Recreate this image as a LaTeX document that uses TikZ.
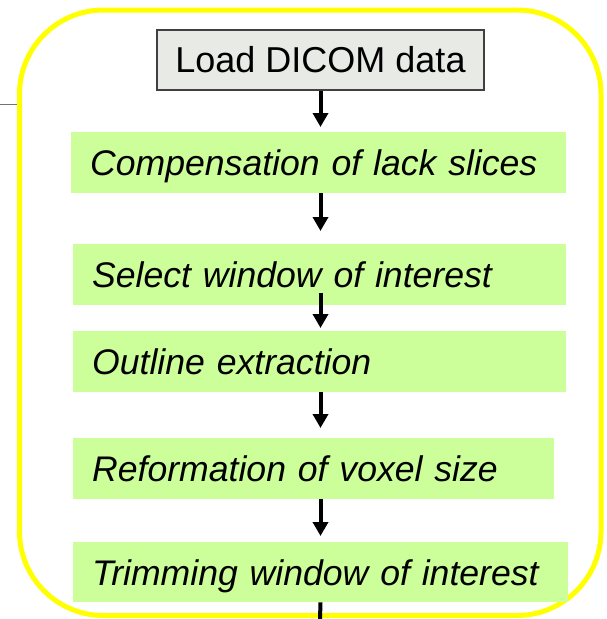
\documentclass[tikz,border=0pt]{standalone}
\usepackage{fontspec}
\setmainfont{Liberation Sans}
\usetikzlibrary{arrows.meta,calc}

\definecolor{stepgreen}{RGB}{204,255,153}
\definecolor{loadgrey}{RGB}{232,234,229}
\definecolor{framegold}{RGB}{255,255,0}

\begin{document}
\begin{tikzpicture}[x=1pt,y=-1pt,
		loadbox/.style={draw=black!75, line width=1.2pt, fill=loadgrey, minimum width=327pt, minimum height=60pt, inner sep=0pt, font=\fontsize{36}{40}\selectfont},
		stepbox/.style={fill=stepgreen, anchor=north west, minimum height=61pt, inner xsep=19pt, inner ysep=0pt, text height=26pt, text depth=0pt, align=left, font=\fontsize{35.6}{40}\selectfont\itshape},
		flow/.style={line width=4pt, -{Triangle[width=15pt,length=14pt]}}]
		%%%%% START %%%%%
		
		\useasboundingbox (0,0) rectangle (607,619);
		
		% outer frame
		\draw[line width=5pt, color=framegold, rounded corners=84pt] (19.5,10) rectangle (601,615.5);
		\draw[line width=0.6pt, color=black!55] (0,104) -- (17,104);
		
		% steps
		\node[loadbox] (load) at (320.5,60) {Load DICOM data};
		
		\node[stepbox, text width=457pt] (comp) at (71,132) {Compensation of lack slices};
		\node[stepbox, text width=455pt] (sel) at (73,244) {Select window of interest};
		\node[stepbox, text width=455pt] (outl) at (73,331) {Outline extraction};
		\node[stepbox, text width=443pt] (refo) at (73,438) {Reformation of voxel size};
		\node[stepbox, text width=457pt, minimum height=60pt] (trim) at (73,542) {Trimming window of interest};
		
		% arrows down the middle
		\coordinate (exit) at (320,619);
		\draw[flow] (load.south) -- ($(load.south |- comp.north)+(0,-5)$);
		\draw[flow] (load.south |- comp.south) -- ($(load.south |- sel.north)+(0,-13)$);
		\draw[flow] ($(load.south |- sel.south)+(0,-12)$) -- ($(load.south |- outl.north)+(0,-3)$);
		\draw[flow] (load.south |- outl.south) -- ($(load.south |- refo.north)+(0,-10)$);
		\draw[flow] (load.south |- refo.south) -- ($(load.south |- trim.north)+(0,-6)$);
		\draw[line width=4pt] (load.south |- trim.south) -- (exit);
		
		%%%%% END %%%%%
\end{tikzpicture}
\end{document}
